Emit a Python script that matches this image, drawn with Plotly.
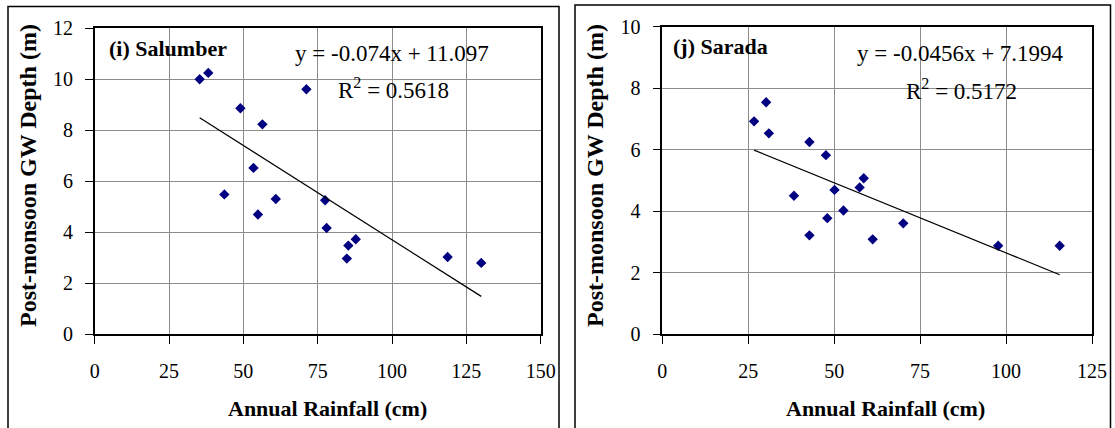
import numpy as np
import plotly.graph_objects as go

W, H = 1115, 428

# ---- data ----
sal_rain = [35.3, 38.2, 49.0, 56.4, 71.2, 53.4, 43.6, 60.9, 54.9, 77.5, 78.0, 85.3, 87.8, 84.8, 118.7, 130.0]
sal_depth = [10.0, 10.25, 8.86, 8.23, 9.61, 6.52, 5.48, 5.30, 4.69, 5.25, 4.16, 3.47, 3.72, 2.96, 3.02, 2.79]
sal_slope, sal_icpt, sal_r2 = -0.074, 11.097, 0.5618

sar_rain = [26.7, 30.2, 31.0, 42.8, 47.6, 58.6, 57.4, 50.1, 38.3, 52.7, 48.0, 42.8, 61.2, 70.1, 97.7, 115.6]
sar_depth = [6.92, 7.54, 6.53, 6.25, 5.82, 5.07, 4.77, 4.69, 4.50, 4.02, 3.77, 3.21, 3.08, 3.60, 2.87, 2.87]
sar_slope, sar_icpt, sar_r2 = -0.0456, 7.1994, 0.5172

panel_labels = ["(i) Salumber", "(j) Sarada"]
eq_texts = ["y = -0.074x + 11.097", "y = -0.0456x + 7.1994"]
r2_texts = ["R<sup>2</sup> = 0.5618", "R<sup>2</sup> = 0.5172"]
x_title = "Annual Rainfall (cm)"
y_title = "Post-monsoon GW Depth (m)"

FONT = "Times New Roman, Liberation Serif, serif"
NAVY = "#000080"

def px_x(p):
    return p / W

def px_y(p):
    return (H - p) / H

fig = go.Figure()

panels = [
    dict(rain=sal_rain, depth=sal_depth, slope=sal_slope, icpt=sal_icpt,
         xr=[0, 150], yr=[0, 12], xd=[px_x(94.7), px_x(540.7)], yd=[px_y(334), px_y(28.3)],
         xa="x", ya="y", box=[8, 559], boxtop=6.5,
         lab=(107, 48), eq=(392, 53), r2=(393, 88), ytitle_x=28, xtitle_x=327),
    dict(rain=sar_rain, depth=sar_depth, slope=sar_slope, icpt=sar_icpt,
         xr=[0, 125], yr=[0, 10], xd=[px_x(662.3), px_x(1092)], yd=[px_y(334), px_y(26.7)],
         xa="x2", ya="y2", box=[575, 1110.5], boxtop=5,
         lab=(671, 47), eq=(960, 53), r2=(961, 90), ytitle_x=595, xtitle_x=885),
]

shapes = []
annotations = []
for i, p in enumerate(panels):
    fig.add_trace(go.Scatter(
        x=p["rain"], y=p["depth"], mode="markers",
        marker=dict(symbol="diamond", size=8, color=NAVY, line=dict(width=0)),
        xaxis=p["xa"], yaxis=p["ya"], showlegend=False))
    xs = np.array([min(p["rain"]), max(p["rain"])])
    fig.add_trace(go.Scatter(
        x=xs, y=p["slope"] * xs + p["icpt"], mode="lines",
        line=dict(color="black", width=1.2),
        xaxis=p["xa"], yaxis=p["ya"], showlegend=False))

    axis_common = dict(showline=True, linecolor="black", linewidth=1.5, mirror=True,
                       ticks="outside", ticklen=8, tickcolor="black", tickwidth=1.2,
                       showgrid=True, gridcolor="#8c8c8c", gridwidth=1, zeroline=False,
                       automargin=False,
                       tickfont=dict(family=FONT, size=20, color="black"))
    xkey = "xaxis" if p["xa"] == "x" else "xaxis2"
    ykey = "yaxis" if p["ya"] == "y" else "yaxis2"
    fig.update_layout(**{
        xkey: dict(domain=p["xd"], range=p["xr"], dtick=25, tick0=0, anchor=p["ya"],
                   ticklabelstandoff=10, **axis_common),
        ykey: dict(domain=p["yd"], range=p["yr"], dtick=2, tick0=0, anchor=p["xa"],
                   ticklabelstandoff=8, **axis_common),
    })

    # panel border
    shapes.append(dict(type="rect", xref="paper", yref="paper",
                       x0=px_x(p["box"][0]), x1=px_x(p["box"][1]),
                       y0=px_y(H + 5), y1=px_y(p["boxtop"]),
                       line=dict(color="black", width=1.5), fillcolor="rgba(0,0,0,0)"))

    annotations.append(dict(text=panel_labels[i], xref="paper", yref="paper",
                            x=px_x(p["lab"][0]), y=px_y(p["lab"][1]), xanchor="left", yanchor="middle",
                            showarrow=False, font=dict(family=FONT, size=22, color="black", weight="bold")))
    annotations.append(dict(text=eq_texts[i], xref="paper", yref="paper",
                            x=px_x(p["eq"][0]), y=px_y(p["eq"][1]), xanchor="center", yanchor="middle",
                            showarrow=False, font=dict(family=FONT, size=23, color="black")))
    annotations.append(dict(text=r2_texts[i], xref="paper", yref="paper",
                            x=px_x(p["r2"][0]), y=px_y(p["r2"][1]), xanchor="center", yanchor="middle",
                            showarrow=False, font=dict(family=FONT, size=23, color="black")))
    annotations.append(dict(text=y_title, xref="paper", yref="paper", textangle=-90,
                            x=px_x(p["ytitle_x"]), y=px_y(176), xanchor="center", yanchor="middle",
                            showarrow=False, font=dict(family=FONT, size=24, color="black", weight="bold")))
    annotations.append(dict(text=x_title, xref="paper", yref="paper",
                            x=px_x(p["xtitle_x"]), y=px_y(408), xanchor="center", yanchor="middle",
                            showarrow=False, font=dict(family=FONT, size=22, color="black", weight="bold")))

fig.update_layout(width=W, height=H, margin=dict(l=0, r=0, t=0, b=0, autoexpand=False),
                  paper_bgcolor="white", plot_bgcolor="white",
                  shapes=shapes, annotations=annotations, showlegend=False)

fig.write_html("out.html")
